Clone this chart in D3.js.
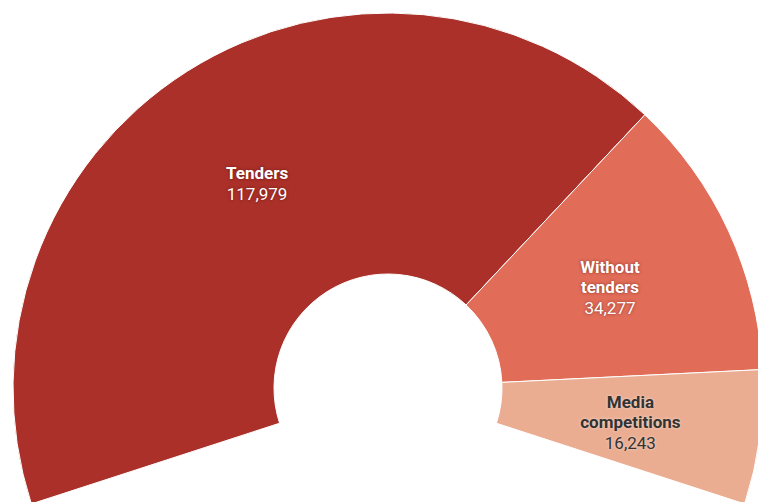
<!DOCTYPE html>
<html>
<head>
<meta charset="utf-8">
<script src="https://cdn.jsdelivr.net/npm/d3@7"></script>
<style>
  html, body { margin: 0; padding: 0; background: #fff; overflow: hidden; }
  svg { display: block; }
  .lbl { font-family: Roboto, "Noto Sans", sans-serif; font-size: 17px; text-anchor: middle; }
  .lbl .name { font-weight: 700; }
  .lbl .val { font-weight: 400; }
  .lbl.light { fill: #fff; text-shadow: 0 0 3px rgba(60,10,5,0.55); }
  .lbl.dark { fill: #333; text-shadow: 0 0 3px rgba(255,255,255,0.6); }
</style>
</head>
<body>
<svg id="chart" width="758" height="502"></svg>
<script>
// Contract counts by award procedure
const categories = ["Tenders", "Without tenders", "Media competitions"];
const labelLines = [["Tenders"], ["Without", "tenders"], ["Media", "competitions"]];
const values = [117979, 34277, 16243];
const colors = ["#aa3029", "#e16c58", "#eaad92"];
const textStyles = ["light", "light", "dark"];

const width = 758, height = 502;
const cx = 388, cy = 388;
const innerR = 114, outerR = 375;

const svg = d3.select("#chart");
const g = svg.append("g").attr("transform", `translate(${cx},${cy})`);

const data = categories.map((c, i) => ({ name: c, lines: labelLines[i], value: values[i], color: colors[i], style: textStyles[i] }));

// Partial ring: opens toward the bottom
const pie = d3.pie()
  .sort(null)
  .value(d => d.value)
  .startAngle(-0.6 * Math.PI)
  .endAngle(0.6 * Math.PI);

const arc = d3.arc().innerRadius(innerR).outerRadius(outerR);
const arcs = pie(data);

g.selectAll("path.slice")
  .data(arcs)
  .join("path")
  .attr("class", "slice")
  .attr("d", arc)
  .attr("fill", d => d.data.color)
  .attr("stroke", "#fff")
  .attr("stroke-width", 1);

const fmt = d3.format(",");
const lineH = 20.7;

const labels = g.selectAll("text.lbl")
  .data(arcs)
  .join("text")
  .attr("class", d => "lbl " + d.data.style)
  .attr("transform", d => {
    const [x, y] = arc.centroid(d);
    return `translate(${x},${y + 2})`;
  });

labels.each(function(d) {
  const t = d3.select(this);
  const lines = d.data.lines.map(s => ({ text: s, cls: "name" }))
    .concat([{ text: fmt(d.data.value), cls: "val" }]);
  const n = lines.length;
  lines.forEach((ln, i) => {
    t.append("tspan")
      .attr("class", ln.cls)
      .attr("x", 0)
      .attr("y", (i - (n - 1) / 2) * lineH)
      .attr("dy", "0.35em")
      .text(ln.text);
  });
});
</script>
</body>
</html>
